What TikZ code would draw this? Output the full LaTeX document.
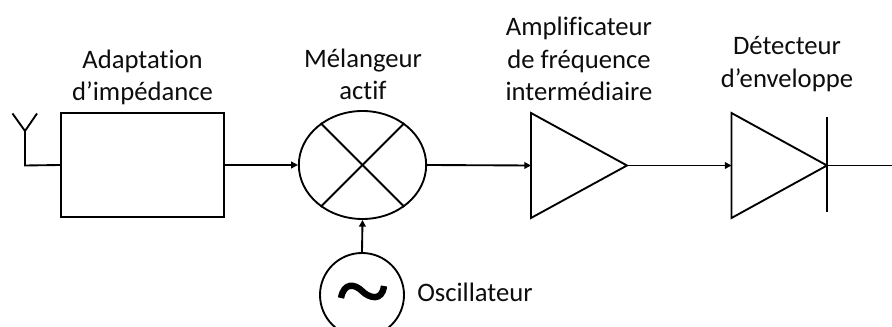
\documentclass[tikz,border=0pt]{standalone}
\usepackage{fontspec}
\setmainfont[RawFeature={-liga}]{Carlito}
\usetikzlibrary{shapes.geometric,arrows.meta}
\tikzset{
 x=0.75pt,y=-0.75pt,
 ln/.style={draw=black,line width=1.4pt},
 conn/.style={ln,-{Triangle[length=5pt,width=5pt]}},
 lbl/.style={font=\fontsize{20}{24.4}\selectfont,align=center,inner sep=0pt,text=black!95},
}
\begin{document}
\begin{tikzpicture}
\useasboundingbox (0,0) rectangle (892,327);
\clip (0,0) rectangle (892,327);
% blocks
\node[ln,rectangle,minimum width=122.5pt,minimum height=78pt,inner sep=0pt] (adapt) at (142.5,165) {};
\node[ln,ellipse,minimum width=95.5pt,minimum height=81pt,inner sep=0pt] (mix) at (362.5,165) {};
\node[ln,ellipse,minimum width=63pt,minimum height=63pt,inner sep=0pt] (osc) at (362,295) {};
% amplifier
\coordinate (ampa) at (531,113);
\coordinate (ampb) at (531,218);
\coordinate (ampin) at (531,165.5);
\coordinate (ampout) at (627,165.5);
\draw[ln,line join=miter] (ampa) -- (ampout) -- (ampb) -- cycle;
% detector
\coordinate (deta) at (731.5,113);
\coordinate (detb) at (731.5,218);
\coordinate (detin) at (731.5,165.5);
\coordinate (detout) at (827,165.5);
\coordinate (bara) at (827,117);
\coordinate (barb) at (827,212);
\coordinate (end) at (892,165.5);
\draw[ln] (deta) -- (detout) -- (detb) -- cycle;
\draw[ln] (bara) -- (barb);
% antenna
\coordinate (anta) at (12.5,113.5);
\coordinate (antb) at (37,113.5);
\coordinate (antm) at (25,131);
\coordinate (antt) at (25,165.5);
\draw[ln] (anta) -- (antm) -- (antb);
\draw[ln] (antm) -- (antt) -- (adapt.west);
% mixer cross
\draw[ln] (mix.135) -- (mix.315);
\draw[ln] (mix.45) -- (mix.225);
% connectors
\draw[conn] (adapt.east) -- (mix.west);
\draw[conn] (mix.east) -- (ampin);
\draw[conn] (ampout) -- (detin);
\draw[ln] (detout) -- (end);
\draw[conn] (osc.north) -- (mix.south);
% sine
\coordinate (sa) at (341,298);
\coordinate (sb) at (384,286);
\draw[line width=4.8pt,line cap=butt] (sa) .. controls (344,282) and (355,284) .. (362,291) .. controls (369,298) and (382,302) .. (sb);
% labels
\node[lbl] (l1) at (142.5,77.5) {Adaptation\\d’impédance};
\node[lbl] (l2) at (363,74.5) {Mélangeur\\actif};
\node[lbl] (l3) at (579,59) {Amplificateur\\de fréquence\\intermédiaire};
\node[lbl] (l4) at (787,64) {Détecteur\\d’enveloppe};
\node[lbl] (l5) at (475,292) {Oscillateur};
\end{tikzpicture}
\end{document}
